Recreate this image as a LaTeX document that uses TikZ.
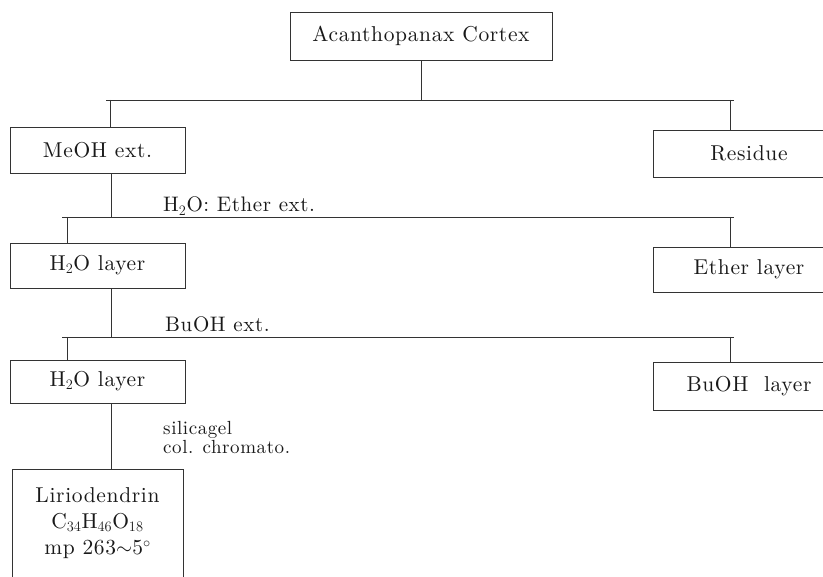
\documentclass[tikz,border=0pt]{standalone}
\usepackage{fontspec}
\setmainfont{lmroman10-regular}[Extension=.otf, LetterSpace=3]
\begin{document}
\begin{tikzpicture}[x=1pt,y=-1pt,
  box/.style={draw=black!80, line width=0.8pt, rectangle, inner sep=0pt,
    text=black!90, font=\fontsize{21.5}{26}\selectfont},
  lbl/.style={inner sep=0pt, anchor=base west, text=black!90,
    font=\fontsize{21}{26}\selectfont},
  conn/.style={draw=black!80, line width=0.8pt}]
\useasboundingbox (0,0) rectangle (823,577);
\clip (0,0) rectangle (823,577);

% boxes
\node[box, minimum width=262pt, minimum height=48pt] (top) at (421,36) {Acanthopanax Cortex};
\node[box, minimum width=175pt, minimum height=46pt] (meoh) at (97.5,150) {MeOH ext.};
\node[box, minimum width=192pt, minimum height=47pt] (res) at (749,153.5) {Residue};
\node[box, minimum width=175pt, minimum height=45pt] (h2oa) at (97.5,265.5) {H$_2$O layer};
\node[box, minimum width=192pt, minimum height=45pt] (ether) at (749,269.5) {Ether layer};
\node[box, minimum width=175pt, minimum height=43pt] (h2ob) at (97.5,381.5) {H$_2$O layer};
\node[box, minimum width=192pt, minimum height=48pt] (buoh) at (749,386) {BuOH\ \ layer};
\node[box, minimum width=171pt, minimum height=109pt, align=center] (lirio) at (97.5,523.5)
  {Liriodendrin\\C$_{34}$H$_{46}$O$_{18}$\\mp 263$\sim$5$^{\circ}$};

% labels
\node[lbl] (l2) at (163,212) {H$_2$O: Ether ext.};
\node[lbl] (l3) at (165,332) {BuOH ext.};
\node[lbl, anchor=north west, align=left, font=\fontsize{19}{19}\selectfont] (l4) at (163,421)
  {silicagel\\col. chromato.};

% level 1
\coordinate (j1) at (421,100);
\coordinate (j1l) at (106,100);
\coordinate (j1r) at (734,100);
\coordinate (d1l) at (110,100);
\coordinate (d1r) at (730,100);
\draw[conn] (top.south) -- (j1);
\draw[conn] (j1l) -- (j1r);
\draw[conn] (d1l) -- (d1l |- meoh.north);
\draw[conn] (d1r) -- (d1r |- res.north);

% level 2
\coordinate (j2l) at (62,217);
\coordinate (j2r) at (734,217);
\coordinate (d2l) at (67,217);
\coordinate (d2r) at (730,217);
\draw[conn] ([xshift=13.5pt]meoh.south) -- ([xshift=13.5pt]meoh.south |- j2l);
\draw[conn] (j2l) -- (j2r);
\draw[conn] (d2l) -- (d2l |- h2oa.north);
\draw[conn] (d2r) -- (d2r |- ether.north);

% level 3
\coordinate (j3l) at (62,337);
\coordinate (j3r) at (734,337);
\coordinate (d3l) at (67,337);
\coordinate (d3r) at (730,337);
\draw[conn] ([xshift=13.5pt]h2oa.south) -- ([xshift=13.5pt]h2oa.south |- j3l);
\draw[conn] (j3l) -- (j3r);
\draw[conn] (d3l) -- (d3l |- h2ob.north);
\draw[conn] (d3r) -- (d3r |- buoh.north);

% level 4
\draw[conn] ([xshift=13.5pt]h2ob.south) -- ([xshift=13.5pt]lirio.north);
\end{tikzpicture}
\end{document}
